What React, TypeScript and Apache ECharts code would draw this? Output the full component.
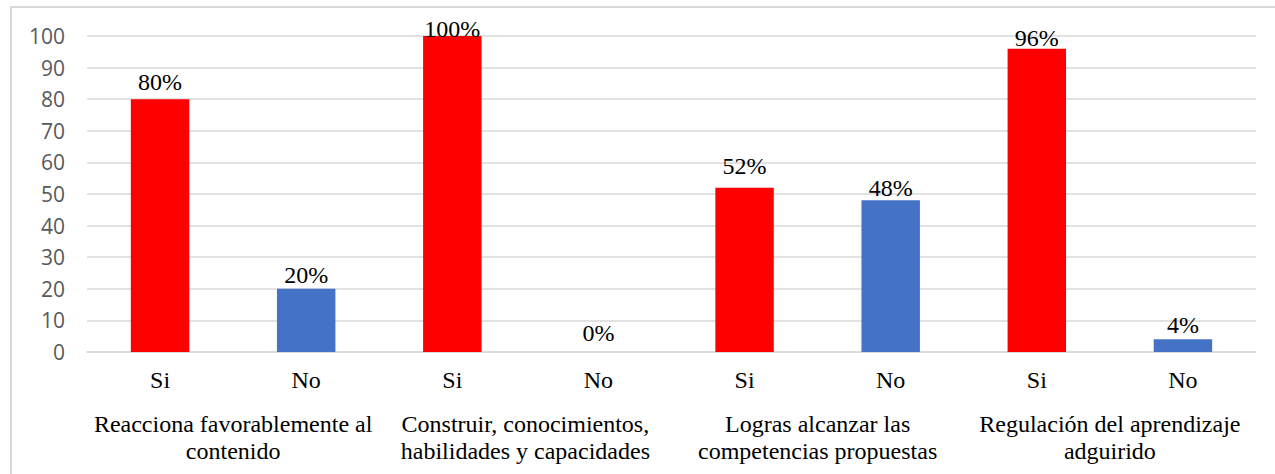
import React, { useEffect, useRef } from "react";
import * as echarts from "echarts";

const groups = [
  "Reacciona favorablemente al\ncontenido",
  "Construir, conocimientos,\nhabilidades y capacidades",
  "Logras alcanzar las\ncompetencias propuestas",
  "Regulación del aprendizaje\nadguirido",
];
const answers = ["Si", "No"];
const siValues = [80, 100, 52, 96];
const noValues = [20, 0, 48, 4];
const yTicks = [0, 10, 20, 30, 40, 50, 60, 70, 80, 90, 100];

const SERIF = "'Liberation Serif', 'Times New Roman', serif";
const SANS = "'Open Sans', 'Noto Sans', sans-serif";

export default function App() {
  const ref = useRef<HTMLDivElement>(null);
  useEffect(() => {
    document.body.style.margin = "0";
    const chart = echarts.init(ref.current!, null, { renderer: "svg" });
    const cats: string[] = [];
    const values: number[] = [];
    groups.forEach((g, i) => {
      cats.push(answers[0]);
      values.push(siValues[i]);
      cats.push(answers[1]);
      values.push(noValues[i]);
    });
    const labelDist = [5, 2, -5, 7, 10, 0, -1, 2];
    const data = values.map((v, i) => ({
      value: v,
      itemStyle: { color: i % 2 === 0 ? "#FF0000" : "#4472C4" },
      label: { distance: labelDist[i] },
    }));
    chart.setOption({
      animation: false,
      graphic: [
        {
          type: "rect",
          shape: { x: 11, y: 7, width: 1300, height: 500 },
          style: { fill: "none", stroke: "#d9d9d9", lineWidth: 2 },
          silent: true,
        },
      ],
      grid: { left: 87, right: 19, top: 36, bottom: 122 },
      xAxis: [
        {
          type: "category",
          data: cats,
          axisLine: { show: true, lineStyle: { color: "#d9d9d9", width: 1.5 } },
          axisTick: { show: false },
          axisLabel: {
            interval: 0,
            margin: 16,
            fontFamily: SERIF,
            fontSize: 24,
            color: "#000",
          },
        },
        {
          type: "category",
          data: groups,
          position: "bottom",
          axisLine: { show: false },
          axisTick: { show: false },
          axisLabel: {
            interval: 0,
            margin: 58,
            fontFamily: SERIF,
            fontSize: 24,
            lineHeight: 27,
            color: "#000",
          },
        },
      ],
      yAxis: {
        type: "value",
        min: yTicks[0],
        max: yTicks[yTicks.length - 1],
        interval: 10,
        axisLine: { show: false },
        axisTick: { show: false },
        splitLine: { lineStyle: { color: "#d9d9d9", width: 1.5 } },
        axisLabel: {
          margin: 22,
          fontFamily: SANS,
          fontSize: 21,
          color: "#595959",
        },
      },
      series: [
        {
          type: "bar",
          xAxisIndex: 0,
          data,
          barWidth: "40%",
          label: {
            show: true,
            position: "top",
            formatter: "{c}%",
            fontFamily: SERIF,
            fontSize: 24,
            color: "#000",
          },
        },
      ],
    });
    return () => chart.dispose();
  }, []);
  return <div ref={ref} style={{ width: 1275, height: 474 }} />;
}
